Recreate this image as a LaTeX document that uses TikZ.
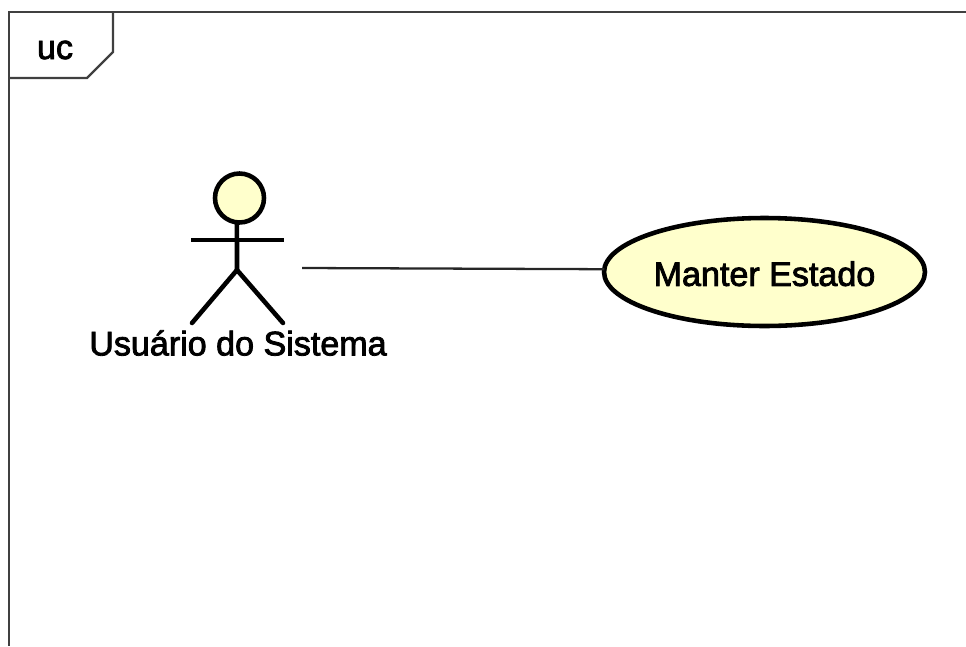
\documentclass[tikz,border=0pt]{standalone}
\usepackage{fontspec}
\usepackage{xcolor}
\setmainfont[FakeBold=2.4]{Liberation Sans}
\usetikzlibrary{shapes.geometric}
\definecolor{ucfill}{RGB}{255,255,204}

\begin{document}
\begin{tikzpicture}[x=0.02cm,y=0.02cm]
\tikzstyle{every node}+=[inner sep=0pt,outer sep=0pt,font=\fontsize{19.4}{22}\selectfont]
\tikzstyle{frameline}=[draw=black!75,line width=1.3pt]
\tikzstyle{actorline}=[draw=black,line width=2.6pt]
\useasboundingbox (0,0) rectangle (966,-646);
% frame
\draw [frameline] (966,-12) -- (9,-12) -- (9,-646);
\draw [frameline] (113,-12) -- (113,-52) -- (87,-78) -- (9,-78);
\node (frametag) at (55,-50) {uc};
% actor
\node (head) at (239.5,-198) [circle,draw=black,line width=2.6pt,fill=ucfill,minimum size=0.98cm] {};
\draw [actorline] (head.264) -- (237,-270);
\draw [actorline] (191,-240) -- (284,-240);
\draw [actorline,line cap=round] (192,-323) -- (237,-270) -- (283,-323);
\node (actorname) at (238,-343) {Usuário do Sistema};
% use case
\node (usecase) at (764.5,-272) [ellipse,draw=black,line width=2.6pt,fill=ucfill,minimum width=6.42cm,minimum height=2.16cm] {\raisebox{-7.9pt}[0pt][0pt]{Manter Estado}};
\coordinate (actorend) at (302,-268);
\draw [black!85,line width=1.3pt] (actorend) -- (usecase.179);
\end{tikzpicture}
\end{document}
